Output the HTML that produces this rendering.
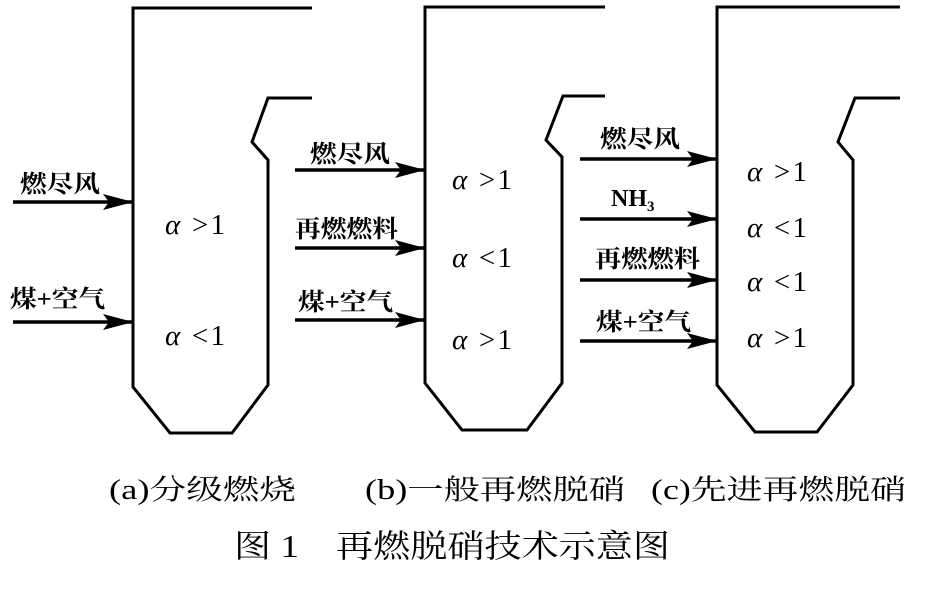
<!DOCTYPE html>
<html><head><meta charset="utf-8"><style>
body{margin:0;background:#fff;width:932px;height:584px;overflow:hidden}
svg text{font-family:"Liberation Serif","Noto Serif CJK SC",serif;fill:#000}
.l{font-size:24px;font-family:"Liberation Serif","Noto Serif CJK SC",serif;font-weight:bold}
.a{font-size:29px}
.cap{font-size:28px}
</style></head><body>
<svg width="932" height="584" viewBox="0 0 932 584" xmlns="http://www.w3.org/2000/svg">
<defs>
<marker id="h" viewBox="0 0 30 16" markerWidth="30" markerHeight="16" refX="30" refY="8" orient="auto" markerUnits="userSpaceOnUse"><path d="M0,0 L30,8 L0,16 L6,8 Z" fill="#000"/></marker></defs>
<g fill="none" stroke="#000" stroke-width="3">
<polyline points="312,8 133,8 133,387 170,433 232,433 268,385 268,160 252,142 268,98 312,98"/>
<polyline points="605,7 425,7 425,383 462,430 527,430 562,383 562,157 546,140 563,96 605,96"/>
<polyline points="900,7 717,7 717,385 755,432 817,432 853,385 853,160 838,142 855,98 900,98"/>
<g stroke-width="3.5">
<line x1="13" y1="202" x2="133" y2="202" marker-end="url(#h)"/>
<line x1="13" y1="322" x2="133" y2="322" marker-end="url(#h)"/>
<line x1="295" y1="170" x2="425" y2="170" marker-end="url(#h)"/>
<line x1="295" y1="248" x2="425" y2="248" marker-end="url(#h)"/>
<line x1="295" y1="320" x2="425" y2="320" marker-end="url(#h)"/>
<line x1="580" y1="159" x2="717" y2="159" marker-end="url(#h)"/>
<line x1="580" y1="219" x2="717" y2="219" marker-end="url(#h)"/>
<line x1="580" y1="280" x2="717" y2="280" marker-end="url(#h)"/>
<line x1="580" y1="341" x2="717" y2="341" marker-end="url(#h)"/>
</g></g>
<text class="l" x="20" y="192" textLength="80" lengthAdjust="spacingAndGlyphs">燃尽风</text>
<text class="l" x="10" y="307" textLength="95" lengthAdjust="spacingAndGlyphs">煤+空气</text>
<text class="l" x="310" y="162" textLength="80" lengthAdjust="spacingAndGlyphs">燃尽风</text>
<text class="l" x="295" y="237" textLength="103" lengthAdjust="spacingAndGlyphs">再燃燃料</text>
<text class="l" x="298" y="310" textLength="95" lengthAdjust="spacingAndGlyphs">煤+空气</text>
<text class="l" x="600" y="147" textLength="80" lengthAdjust="spacingAndGlyphs">燃尽风</text>
<text x="611" y="206" style="font-size:24px;font-weight:bold">NH<tspan font-size="15" dy="5">3</tspan></text>
<text class="l" x="595" y="267" textLength="105" lengthAdjust="spacingAndGlyphs">再燃燃料</text>
<text class="l" x="596" y="330" textLength="95" lengthAdjust="spacingAndGlyphs">煤+空气</text>
<g class="a">
<text x="165" y="234" textLength="60" lengthAdjust="spacing"><tspan font-style="italic">α</tspan> &gt;1</text>
<text x="165" y="345" textLength="60" lengthAdjust="spacing"><tspan font-style="italic">α</tspan> &lt;1</text>
<text x="452" y="189" textLength="60" lengthAdjust="spacing"><tspan font-style="italic">α</tspan> &gt;1</text>
<text x="452" y="267" textLength="60" lengthAdjust="spacing"><tspan font-style="italic">α</tspan> &lt;1</text>
<text x="452" y="349" textLength="60" lengthAdjust="spacing"><tspan font-style="italic">α</tspan> &gt;1</text>
<text x="747" y="181" textLength="60" lengthAdjust="spacing"><tspan font-style="italic">α</tspan> &gt;1</text>
<text x="747" y="237" textLength="60" lengthAdjust="spacing"><tspan font-style="italic">α</tspan> &lt;1</text>
<text x="747" y="291" textLength="60" lengthAdjust="spacing"><tspan font-style="italic">α</tspan> &lt;1</text>
<text x="747" y="347" textLength="60" lengthAdjust="spacing"><tspan font-style="italic">α</tspan> &gt;1</text>
</g>
<text class="cap" x="109" y="499" textLength="187" lengthAdjust="spacingAndGlyphs">(a)分级燃烧</text>
<text class="cap" x="365" y="499" textLength="260" lengthAdjust="spacingAndGlyphs">(b)一般再燃脱硝</text>
<text class="cap" x="651" y="499" textLength="255" lengthAdjust="spacingAndGlyphs">(c)先进再燃脱硝</text>
<text x="234" y="557" style="font-size:32px" textLength="436" lengthAdjust="spacingAndGlyphs">图 1　再燃脱硝技术示意图</text>
</svg>
</body></html>
